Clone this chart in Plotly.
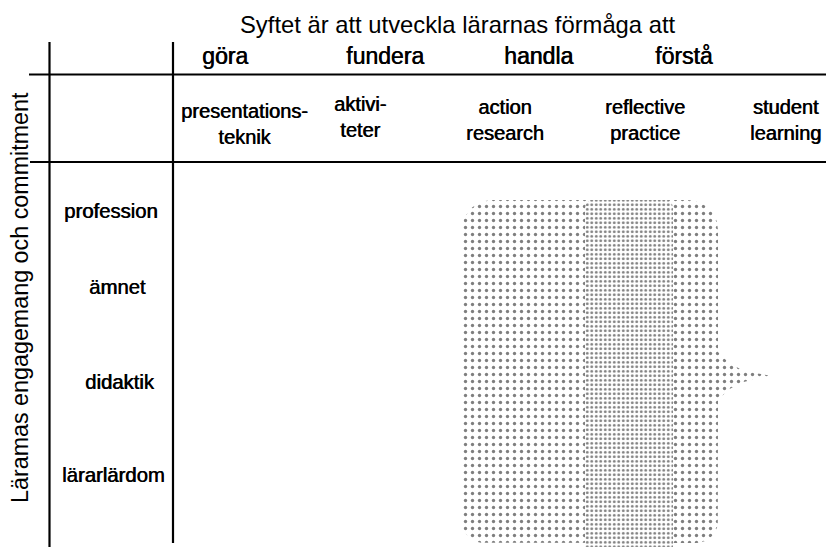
import numpy as np
import plotly.graph_objects as go

# ---- content ----
title_text = "Syftet är att utveckla lärarnas förmåga att"
side_title = "Läramas engagemang och commitment"
verb_labels = ["göra", "fundera", "handla", "förstå"]
column_labels = ["presentations-<br>teknik", "aktivi-<br>teter", "action<br>research",
                 "reflective<br>practice", "student<br>learning"]
row_labels = ["profession", "ämnet", "didaktik", "lärarlärdom"]

# ---- layout constants (pixel-like canvas units) ----
W, H = 826, 547
verb_x = [225, 385, 538, 684]
verb_y = 56
col_x = [244, 360, 505, 645, 785]
col_y = [124, 117, 120, 120, 120]
row_x = [111, 117, 120, 113]
row_y = [211, 287, 382, 475]
FONT = "Liberation Sans, Arial, sans-serif"
HEAVY = "0.6px 0px 0px #000"

fig = go.Figure()

def rounded_rect(x0, x1, y0, y1, r_top, r_bot, tail=None, n=12):
    pts = []
    for a in np.linspace(np.pi, 1.5 * np.pi, n):
        pts.append((x0 + r_top + r_top * np.cos(a), y0 + r_top + r_top * np.sin(a)))
    for a in np.linspace(1.5 * np.pi, 2 * np.pi, n):
        pts.append((x1 - r_top + r_top * np.cos(a), y0 + r_top + r_top * np.sin(a)))
    if tail is not None:
        pts.extend(tail)
    for a in np.linspace(0, 0.5 * np.pi, n):
        pts.append((x1 - r_bot + r_bot * np.cos(a), y1 - r_bot + r_bot * np.sin(a)))
    for a in np.linspace(0.5 * np.pi, np.pi, n):
        pts.append((x0 + r_bot + r_bot * np.cos(a), y1 - r_bot + r_bot * np.sin(a)))
    pts.append(pts[0])
    xs, ys = zip(*pts)
    return list(xs), list(ys)

tail_pts = [(718, 352), (728, 362), (740, 369), (755, 373), (772, 376),
            (755, 379), (740, 383), (728, 390), (718, 400)]
bx, by = rounded_rect(462, 718, 200, 543, 30, 22, tail=tail_pts)
fig.add_trace(go.Scatter(
    x=bx, y=by, mode="lines", fill="toself", line=dict(width=0),
    fillcolor="rgba(0,0,0,0)",
    fillpattern=dict(shape=".", size=7, solidity=0.18, fgcolor="#000000",
                     bgcolor="white"),
    hoverinfo="skip", showlegend=False))

dx, dy = rounded_rect(585, 673, 200, 547, 8, 0)
fig.add_trace(go.Scatter(
    x=dx, y=dy, mode="lines", fill="toself", line=dict(width=0),
    fillcolor="rgba(0,0,0,0)",
    fillpattern=dict(shape=".", size=4.5, solidity=0.32, fgcolor="#000000",
                     bgcolor="white"),
    hoverinfo="skip", showlegend=False))

line_style = dict(color="black", width=2.2)
shapes = [
    dict(type="line", x0=49.5, x1=49.5, y0=42, y1=547),
    dict(type="line", x0=173, x1=173, y0=42, y1=543),
    dict(type="line", x0=29, x1=826, y0=74.5, y1=74.5),
    dict(type="line", x0=30, x1=826, y0=162, y1=162),
]
for s in shapes:
    s.update(xref="x", yref="y", line=line_style, layer="above")

ann = []
ann.append(dict(x=458, y=24, text=title_text, font=dict(size=23.8)))
for t, x in zip(verb_labels, verb_x):
    ann.append(dict(x=x, y=verb_y, text=t, font=dict(size=23, shadow=HEAVY)))
for t, x, y in zip(column_labels, col_x, col_y):
    ann.append(dict(x=x, y=y, text=t, font=dict(size=20, shadow=HEAVY)))
for t, x, y in zip(row_labels, row_x, row_y):
    ann.append(dict(x=x, y=y, text=t, font=dict(size=20.3, shadow=HEAVY)))
ann.append(dict(x=20, y=298, text=side_title, textangle=-90, font=dict(size=23.3)))
for a in ann:
    a.update(xref="x", yref="y", showarrow=False, xanchor="center", yanchor="middle")
    a["font"].update(family=FONT, color="black")

fig.update_layout(
    width=W, height=H, margin=dict(l=0, r=0, t=0, b=0),
    paper_bgcolor="white", plot_bgcolor="white",
    xaxis=dict(range=[0, W], visible=False, fixedrange=True),
    yaxis=dict(range=[H, 0], visible=False, fixedrange=True),
    shapes=shapes, annotations=ann, showlegend=False,
)
fig.write_html(
    "out.html",
    config={"displayModeBar": False, "staticPlot": True},
    post_script="document.body.style.margin='0';document.body.style.overflow='hidden';",
)
